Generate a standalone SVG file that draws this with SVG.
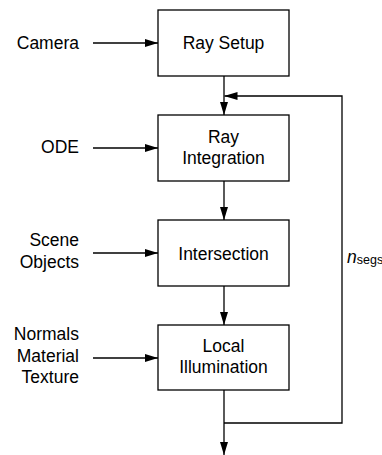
<svg xmlns="http://www.w3.org/2000/svg" width="382" height="455" viewBox="0 0 382 455">
<style>
.box{fill:#fff;stroke:#000;stroke-width:1.3}
.t{font-family:"Liberation Sans",Arial,sans-serif;font-size:17.5px;fill:#000}
.c{text-anchor:middle}
.r{text-anchor:end}
.ln{fill:none;stroke:#000;stroke-width:1.3}
</style>
<defs>
<marker id="ah" markerWidth="13" markerHeight="8" refX="13" refY="4" orient="auto" markerUnits="userSpaceOnUse">
<path d="M0,0 L13,4 L0,8 Z" fill="#000"/>
</marker>
</defs>
<g id="connectors">
<line class="ln" x1="93" y1="43" x2="158" y2="43" marker-end="url(#ah)"/>
<line class="ln" x1="93" y1="148" x2="158" y2="148" marker-end="url(#ah)"/>
<line class="ln" x1="93" y1="253" x2="158" y2="253" marker-end="url(#ah)"/>
<line class="ln" x1="93" y1="358" x2="158" y2="358" marker-end="url(#ah)"/>
<line class="ln" x1="224" y1="76" x2="224" y2="115" marker-end="url(#ah)"/>
<line class="ln" x1="224" y1="181" x2="224" y2="220" marker-end="url(#ah)"/>
<line class="ln" x1="224" y1="286" x2="224" y2="325" marker-end="url(#ah)"/>
<line class="ln" x1="224" y1="390" x2="224" y2="455" marker-end="url(#ah)"/>
<polyline class="ln" points="224,423 342,423 342,96 224.5,96" marker-end="url(#ah)"/>
</g>
<g id="ray-setup">
<rect class="box" x="158" y="10" width="131" height="66"/>
<text class="t c" x="223.5" y="49.3">Ray Setup</text>
</g>
<g id="ray-integration">
<rect class="box" x="158" y="115" width="131" height="66"/>
<text class="t c" x="223.5" y="142.5">Ray</text>
<text class="t c" x="223.5" y="163.5">Integration</text>
</g>
<g id="intersection">
<rect class="box" x="158" y="220" width="131" height="66"/>
<text class="t c" x="223.5" y="259.5">Intersection</text>
</g>
<g id="local-illumination">
<rect class="box" x="158" y="325" width="131" height="65"/>
<text class="t c" x="223.5" y="351.7">Local</text>
<text class="t c" x="223.5" y="373.3">Illumination</text>
</g>
<g id="camera"><text class="t r" x="79" y="49.3">Camera</text></g>
<g id="ode"><text class="t r" x="79" y="152.5">ODE</text></g>
<g id="scene-objects">
<text class="t r" x="79" y="246">Scene</text>
<text class="t r" x="79" y="267.7">Objects</text>
</g>
<g id="inputs-lighting">
<text class="t r" x="79" y="340">Normals</text>
<text class="t r" x="79" y="361.7">Material</text>
<text class="t r" x="79" y="383.3">Texture</text>
</g>
<g id="nsegs"><text class="t" x="347" y="263"><tspan font-style="italic">n</tspan><tspan font-size="12.5" dy="1">segs</tspan></text></g>
</svg>
